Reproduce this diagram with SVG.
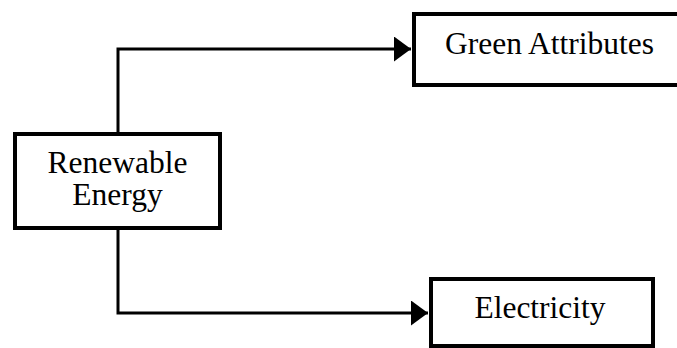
<svg xmlns="http://www.w3.org/2000/svg" width="677" height="348" viewBox="0 0 677 348">
<style>
.box{fill:#fff;stroke:#000;stroke-width:4}
.lbl{font-family:"Liberation Serif","Times New Roman",serif;font-size:31.5px;fill:#000;text-anchor:middle}
.conn{fill:none;stroke:#000;stroke-width:3}
</style>
<defs>
<marker id="arr" markerUnits="userSpaceOnUse" markerWidth="18" markerHeight="26" refX="17" refY="12.5" orient="auto">
<path d="M0,0 L17,12.5 L0,25 Z" fill="#000"/>
</marker>
</defs>
<rect width="677" height="348" fill="#fff"/>
<g id="connectors">
<path class="conn" d="M118,132 L118,49 L411,49" marker-end="url(#arr)"/>
<path class="conn" d="M118,230 L118,313 L428,313" marker-end="url(#arr)"/>
</g>
<g id="renewable">
<rect class="box" x="15" y="134" width="205" height="94"/>
<text class="lbl" x="117.5" y="173">Renewable</text>
<text class="lbl" x="117.5" y="205">Energy</text>
</g>
<g id="green">
<rect class="box" x="414" y="14" width="270" height="71"/>
<text class="lbl" x="549.5" y="54">Green Attributes</text>
</g>
<g id="electricity">
<rect class="box" x="431" y="279" width="222" height="67"/>
<text class="lbl" x="540" y="318">Electricity</text>
</g>
</svg>
